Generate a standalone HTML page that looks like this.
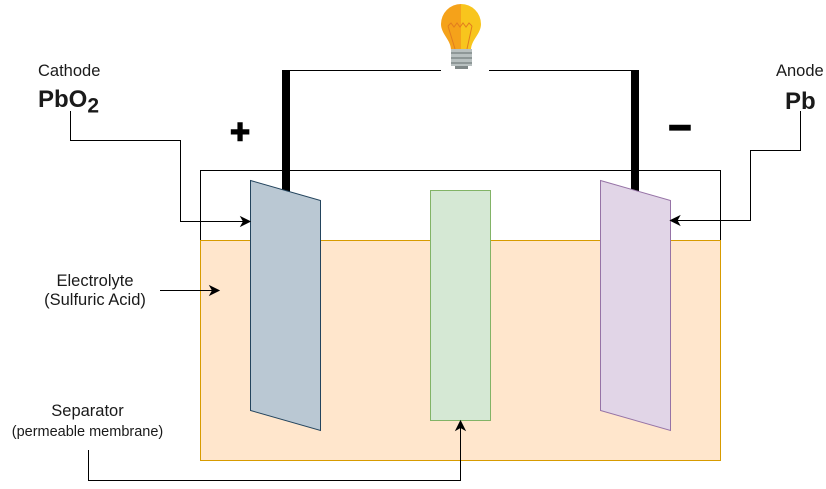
<!DOCTYPE html>
<html>
<head>
<meta charset="utf-8">
<style>
html,body{margin:0;padding:0;background:#fff;}
svg{display:block;}
text{font-family:"Liberation Sans",Arial,sans-serif;fill:#1a1a1a;}
</style>
</head>
<body>
<svg width="826" height="489" viewBox="0 0 826 489" xmlns="http://www.w3.org/2000/svg">
  <!-- outer container -->
  <rect x="200.5" y="170.5" width="520" height="290" fill="#fff" stroke="#000" stroke-width="1"/>
  <!-- electrolyte -->
  <rect x="200.5" y="240.5" width="520" height="220" fill="#ffe6cc" stroke="#d79b00" stroke-width="1"/>

  <!-- wires -->
  <line x1="290" y1="70.5" x2="441" y2="70.5" stroke="#000" stroke-width="1"/>
  <line x1="489" y1="70.5" x2="631" y2="70.5" stroke="#000" stroke-width="1"/>
  <rect x="282" y="70" width="8" height="122" fill="#000"/>
  <rect x="631" y="70" width="8" height="122" fill="#000"/>

  <!-- plates -->
  <polygon points="250.5,180.5 320.5,200.5 320.5,430.5 250.5,410.5" fill="#bac8d3" stroke="#23445d" stroke-width="1"/>
  <polygon points="600.5,180.5 670.5,200.5 670.5,430.5 600.5,410.5" fill="#e1d5e7" stroke="#9673a6" stroke-width="1"/>
  <rect x="430.5" y="190.5" width="60" height="230" fill="#d5e8d4" stroke="#82b366" stroke-width="1"/>

  <!-- connectors -->
  <path d="M70.5 111 V140.5 H180.5 V221.5 H243" fill="none" stroke="#000" stroke-width="1"/>
  <path d="M250 221.5 L241 217 L243.5 221.5 L241 226 Z" fill="#000" stroke="#000" stroke-width="1"/>

  <path d="M800.5 111 V150.5 H750.5 V220.5 H677" fill="none" stroke="#000" stroke-width="1"/>
  <path d="M670.5 220.5 L679.5 216 L677 220.5 L679.5 225 Z" fill="#000" stroke="#000" stroke-width="1"/>

  <path d="M160 290.5 H212" fill="none" stroke="#000" stroke-width="1"/>
  <path d="M219 290.5 L210 286 L212.5 290.5 L210 295 Z" fill="#000" stroke="#000" stroke-width="1"/>

  <path d="M88.5 450 V480.5 H460.5 V427" fill="none" stroke="#000" stroke-width="1"/>
  <path d="M460.5 421 L456 430 L460.5 427.5 L465 430 Z" fill="#000" stroke="#000" stroke-width="1"/>

  <!-- bulb -->
  <defs>
    <clipPath id="lh"><rect x="430" y="0" width="31" height="60"/></clipPath>
    <clipPath id="rh"><rect x="461" y="0" width="31" height="60"/></clipPath>
  </defs>
  <path id="glass" d="M451,50 C451,40 441,34 441,24 A20,20 0 0 1 481,24 C481,34 471,40 471,50 Z" fill="#f8c51d" clip-path="url(#rh)"/>
  <path d="M451,50 C451,40 441,34 441,24 A20,20 0 0 1 481,24 C481,34 471,40 471,50 Z" fill="#f5a21a" clip-path="url(#lh)"/>
  <path d="M448,26 L451,23 L454,27 L457,23 L460,27 L463,23 L466,27 L469,23 L472,26" fill="none" stroke="#e27d1e" stroke-width="1"/>
  <path d="M448,26 L455,49 M472,26 L467,49" fill="none" stroke="#e27d1e" stroke-width="1"/>
  <rect x="451" y="49" width="21" height="17" fill="#b8c0c0"/>
  <rect x="451" y="52" width="21" height="2" fill="#8e9797"/>
  <rect x="451" y="57" width="21" height="2" fill="#8e9797"/>
  <rect x="451" y="62" width="21" height="2" fill="#8e9797"/>
  <rect x="455" y="66" width="13" height="3" fill="#7f8787"/>

  <!-- labels -->
  <text x="38" y="76" font-size="16.5">Cathode</text>
  <text x="38" y="107" font-size="24" font-weight="bold">PbO<tspan font-size="21" dy="5.5">2</tspan></text>

  <text x="776" y="76" font-size="16.5">Anode</text>
  <text x="785" y="109" font-size="24" font-weight="bold">Pb</text>

  <text x="240" y="143" font-size="34" font-weight="bold" text-anchor="middle" stroke="#000" stroke-width="1.5" style="fill:#000">+</text>
  <text x="680" y="141" font-size="40" font-weight="bold" text-anchor="middle" stroke="#000" stroke-width="1.5" style="fill:#000">−</text>

  <text x="95" y="286" font-size="16.5" text-anchor="middle">Electrolyte</text>
  <text x="95" y="305" font-size="16.5" text-anchor="middle">(Sulfuric Acid)</text>

  <text x="87.5" y="416" font-size="16.5" text-anchor="middle">Separator</text>
  <text x="87.5" y="436" font-size="14.5" text-anchor="middle">(permeable membrane)</text>
</svg>
</body>
</html>
